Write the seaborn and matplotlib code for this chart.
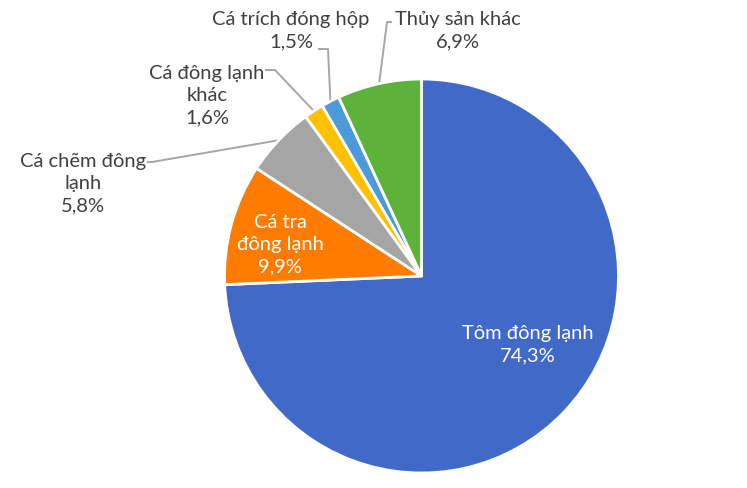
import numpy as np
import matplotlib
matplotlib.use("Agg")
import matplotlib.pyplot as plt
import seaborn as sns

# ----------------------------
# Data (clockwise from 12 o'clock)
# ----------------------------
categories = ["Tôm đông lạnh", "Cá tra\nđông lạnh", "Cá chẽm đông\nlạnh",
              "Cá đông lạnh\nkhác", "Cá trích đóng hộp", "Thủy sản khác"]
shares = [74.3, 9.9, 5.8, 1.6, 1.5, 6.9]
pct_labels = ["74,3%", "9,9%", "5,8%", "1,6%", "1,5%", "6,9%"]
colors = ["#4169C8", "#FF7C00", "#A5A5A5", "#FFC000", "#4D9AD9", "#5DB33A"]

sns.set_theme(style="white")
plt.rcParams['font.family'] = ['Lato', 'DejaVu Sans']

W, H = 747, 489
fig = plt.figure(figsize=(W / 100, H / 100), dpi=100)
ax = fig.add_axes([0, 0, 1, 1])
ax.set_aspect('equal')

cx, cy, R = 421.5, H - 277, 197
wedges, _ = ax.pie(shares, colors=colors, startangle=90, counterclock=False,
                   radius=R, center=(cx, cy), frame=True,
                   wedgeprops=dict(edgecolor='white', linewidth=2))
ax.set_xlim(0, W)
ax.set_ylim(0, H)
ax.axis('off')

fs = 14.5
ls = 1.36
txt_col = "#404040"
line_col = "#A6A6A6"

# Inside labels
inside_pos = {0: (528, 345), 1: (280, 245)}
for i, (px, py) in inside_pos.items():
    ax.text(px, H - py, f"{categories[i]}\n{pct_labels[i]}", ha='center', va='center',
            color='white', fontsize=fs, linespacing=ls)

# Outside labels: (text centre, leader start, elbow)
outside = {
    2: ((83, 184), (147, 163), (152, 163)),
    3: ((207, 96), (265, 71), (275, 71)),
    4: ((291, 31), (318, 50), (328, 50)),
    5: ((458, 31), (392, 23), (387, 23)),
}
for i, ((px, py), (sx, sy), (ex, ey)) in outside.items():
    ax.text(px, H - py, f"{categories[i]}\n{pct_labels[i]}", ha='center', va='center',
            color=txt_col, fontsize=fs, linespacing=ls)
    w = wedges[i]
    mid = np.deg2rad((w.theta1 + w.theta2) / 2)
    ax_, ay_ = cx + R * np.cos(mid), cy + R * np.sin(mid)
    ax.plot([sx, ex, ax_], [H - sy, H - ey, ay_], color=line_col, lw=1.4,
            solid_capstyle='butt', zorder=0.5)

fig.savefig("out.png", dpi=100)
